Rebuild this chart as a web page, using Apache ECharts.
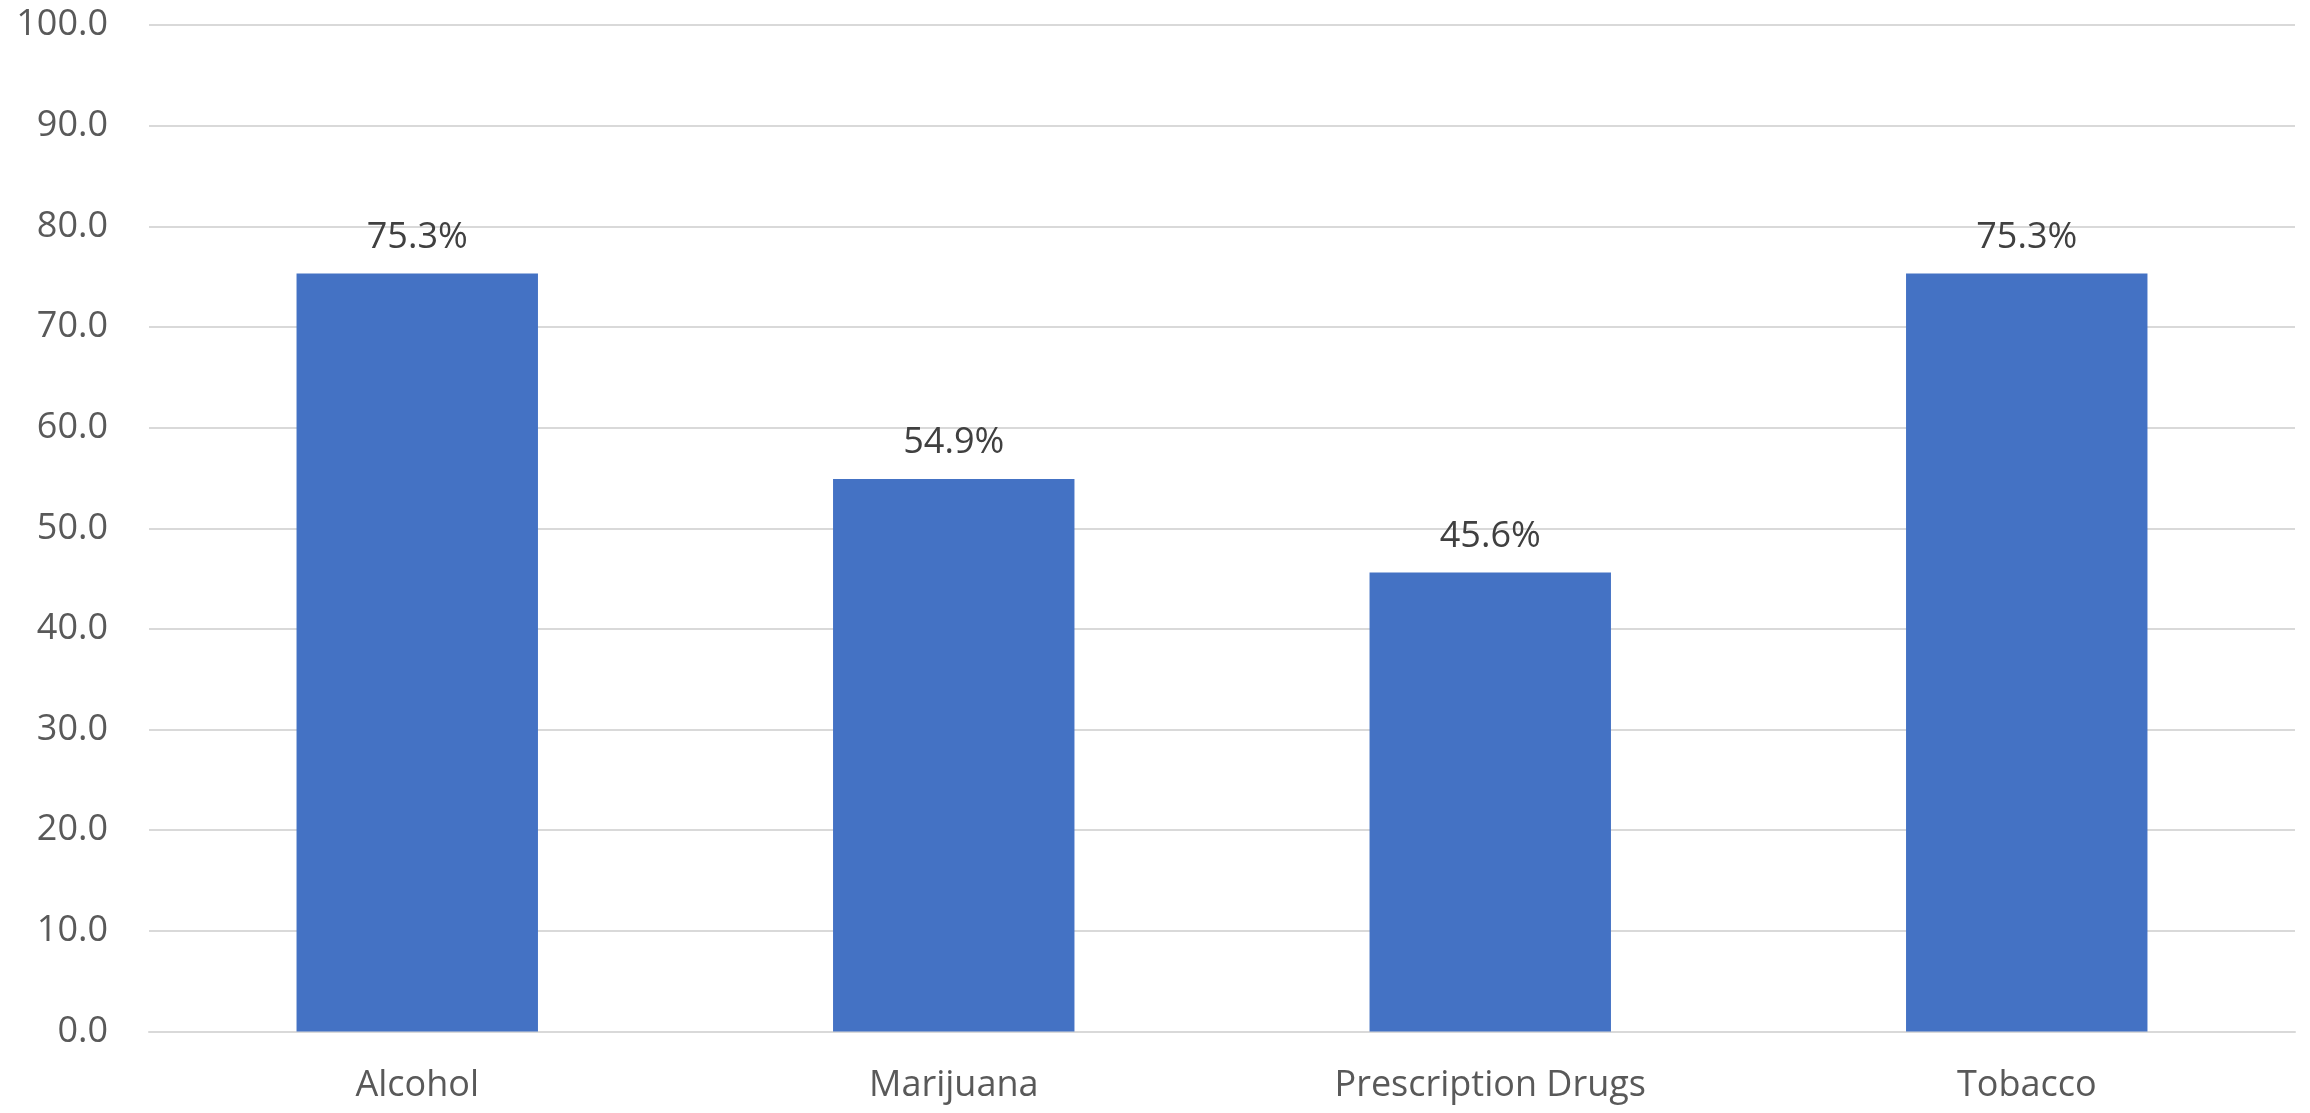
<!DOCTYPE html>
<html>
<head>
<meta charset="utf-8">
<style>
  html, body { margin: 0; padding: 0; background: #ffffff; }
  #chart { width: 2310px; height: 1113px; }
</style>
<script src="https://cdn.jsdelivr.net/npm/echarts@6/dist/echarts.min.js"></script>
</head>
<body>
<div id="chart"></div>
<script>
// Substance categories and their percentages
const categories = ['Alcohol', 'Marijuana', 'Prescription Drugs', 'Tobacco'];
const percentValues = [75.3, 54.9, 45.6, 75.3];
const axisMin = 0;
const axisMax = 100;
const axisStep = 10;

const chart = echarts.init(document.getElementById('chart'), null, { renderer: 'canvas' });

const fontFamily = '"Open Sans", "Noto Sans", sans-serif';

chart.setOption({
  animation: false,
  backgroundColor: '#ffffff',
  grid: { left: 149, right: 15, top: 25, bottom: 81.5, containLabel: false },
  xAxis: {
    type: 'category',
    data: categories,
    axisLine: { show: true, lineStyle: { color: '#d9d9d9', width: 2 } },
    axisTick: { show: false },
    axisLabel: {
      color: '#595959',
      fontSize: 36,
      fontFamily: fontFamily,
      margin: 36
    },
    splitLine: { show: false }
  },
  yAxis: {
    type: 'value',
    min: axisMin,
    max: axisMax,
    interval: axisStep,
    axisLine: { show: false },
    axisTick: { show: false },
    axisLabel: {
      color: '#595959',
      fontSize: 36,
      fontFamily: fontFamily,
      margin: 41,
      formatter: v => v.toFixed(1)
    },
    splitLine: { show: true, lineStyle: { color: '#d9d9d9', width: 2 } }
  },
  series: [{
    type: 'bar',
    data: percentValues,
    barWidth: '45%',
    itemStyle: { color: '#4472C4' },
    label: {
      show: true,
      position: 'top',
      distance: 18,
      color: '#404040',
      fontSize: 36,
      fontFamily: fontFamily,
      formatter: p => p.value.toFixed(1) + '%'
    }
  }]
});
</script>
</body>
</html>
